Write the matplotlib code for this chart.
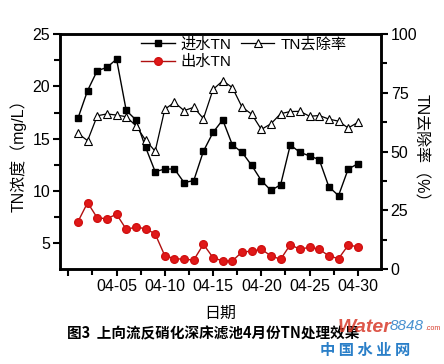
import matplotlib
matplotlib.use('Agg')
import matplotlib.pyplot as plt
from matplotlib.ticker import MultipleLocator, FixedLocator

# ---- data ----
days = list(range(1, 31))
inflow_tn = [16.95, 19.6, 21.5, 21.8, 22.6, 17.7, 16.8, 14.2, 11.85, 12.1,
             12.1, 10.8, 11.0, 13.8, 15.6, 16.8, 14.4, 13.7, 12.45, 11.0,
             10.05, 10.6, 14.4, 13.7, 13.35, 13.0, 10.4, 9.56, 12.1, 12.6]
outflow_tn = [7.07, 8.89, 7.43, 7.36, 7.78, 6.35, 6.54, 6.41, 5.9, 3.82,
              3.54, 3.48, 3.41, 4.91, 3.63, 3.32, 3.32, 4.18, 4.25, 4.44,
              3.8, 3.48, 4.87, 4.44, 4.63, 4.44, 3.8, 3.54, 4.82, 4.69]
removal = [57.7, 54.6, 65.2, 66.0, 65.5, 64.8, 61.0, 54.9, 50.1, 68.0,
           70.9, 67.4, 68.8, 64.0, 76.4, 80.1, 77.2, 68.9, 65.9, 59.4,
           61.8, 66.1, 67.0, 67.1, 65.0, 65.3, 63.8, 62.9, 60.0, 62.4]
tick_days = [0, 5, 10, 15, 20, 25, 30]
tick_labels = ['', '04-05', '04-10', '04-15', '04-20', '04-25', '04-30']
left_ticks = [5, 10, 15, 20, 25]
right_ticks = [0, 25, 50, 75, 100]

plt.rcParams['font.family'] = ['Liberation Sans', 'Noto Sans CJK SC']
plt.rcParams['font.size'] = 11

W, H = 444, 364
fig = plt.figure(figsize=(W / 100, H / 100), dpi=100)
L, R, T, B = 60, 381, 34, 269
ax = fig.add_axes([L / W, 1 - B / H, (R - L) / W, (B - T) / H])
ax2 = ax.twinx()

l1, = ax.plot(days, inflow_tn, color='black', lw=1.0, marker='s', ms=5,
              mfc='black', mec='black', label='进水TN')
l2, = ax.plot(days, outflow_tn, color='#b01010', lw=1.0, marker='o', ms=5.5,
              mfc='#e01818', mec='#d01010', label='出水TN')
l3, = ax2.plot(days, removal, color='black', lw=0.9, marker='^', ms=6,
               mfc='white', mec='black', mew=0.8, label='TN去除率')

ax.set_xlim(-0.86, 32.4)
ax.set_ylim(2.55, 25)
ax2.set_ylim(0, 100)

ax.xaxis.set_major_locator(FixedLocator(tick_days))
ax.set_xticklabels(tick_labels)
ax.xaxis.set_minor_locator(MultipleLocator(2.5))
ax.yaxis.set_major_locator(FixedLocator(left_ticks))
ax.yaxis.set_minor_locator(MultipleLocator(2.5))
ax2.yaxis.set_major_locator(FixedLocator(right_ticks))
ax2.yaxis.set_minor_locator(MultipleLocator(12.5))

for a in (ax, ax2):
    for s in a.spines.values():
        s.set_linewidth(1.8)
ax.tick_params(axis='both', which='major', direction='out', length=5, width=1.5,
               labelsize=11.5, pad=2)
ax.tick_params(axis='both', which='minor', direction='out', length=4, width=1.5)
ax.tick_params(axis='x', top=False, which='both')
ax.tick_params(axis='y', right=False, which='both')
ax2.tick_params(axis='y', which='major', direction='out', length=5, width=1.5,
                labelsize=11.5, pad=2)
ax2.tick_params(axis='y', which='minor', direction='out', length=4, width=1.5)

ax.set_ylabel('TN浓度（mg/L）', fontsize=11.5, labelpad=4)
ax2.set_ylabel('TN去除率（%）', fontsize=11.5, rotation=270, labelpad=8)
ax.set_xlabel('日期', fontsize=11.5, labelpad=9)

leg = ax.legend(handles=[l1, l2, l3], ncol=2, frameon=False, fontsize=11,
                loc='upper left', bbox_to_anchor=((141 - L) / (R - L), 0.985),
                borderpad=0, borderaxespad=0, handlelength=2.2,
                handletextpad=0.4, columnspacing=0.6, labelspacing=0.2)

fig.text(0.152, 1 - 333 / H, '图3  上向流反硝化深床滤池4月份TN处理效果',
         fontsize=10.5, fontweight='bold', ha='left', va='center',
         family=['Noto Sans CJK SC'])

# watermark
fig.text(338 / W, 1 - 327 / H, 'Water', fontsize=14, fontweight='bold',
         color='#d83a2a', ha='left', va='center', style='italic', alpha=0.85)
fig.text(390 / W, 1 - 326 / H, '8848', fontsize=11, color='#2a7fc8',
         ha='left', va='center', style='italic', alpha=0.85)
fig.text(425 / W, 1 - 329 / H, '.com', fontsize=5, color='#d83a2a',
         ha='left', va='center')
fig.text(320 / W, 1 - 350 / H, '中 国 水 业 网', fontsize=11, fontweight='bold',
         color='#2a7fc8', ha='left', va='center', family=['Noto Sans CJK SC'])

fig.savefig('out.png', dpi=100)
